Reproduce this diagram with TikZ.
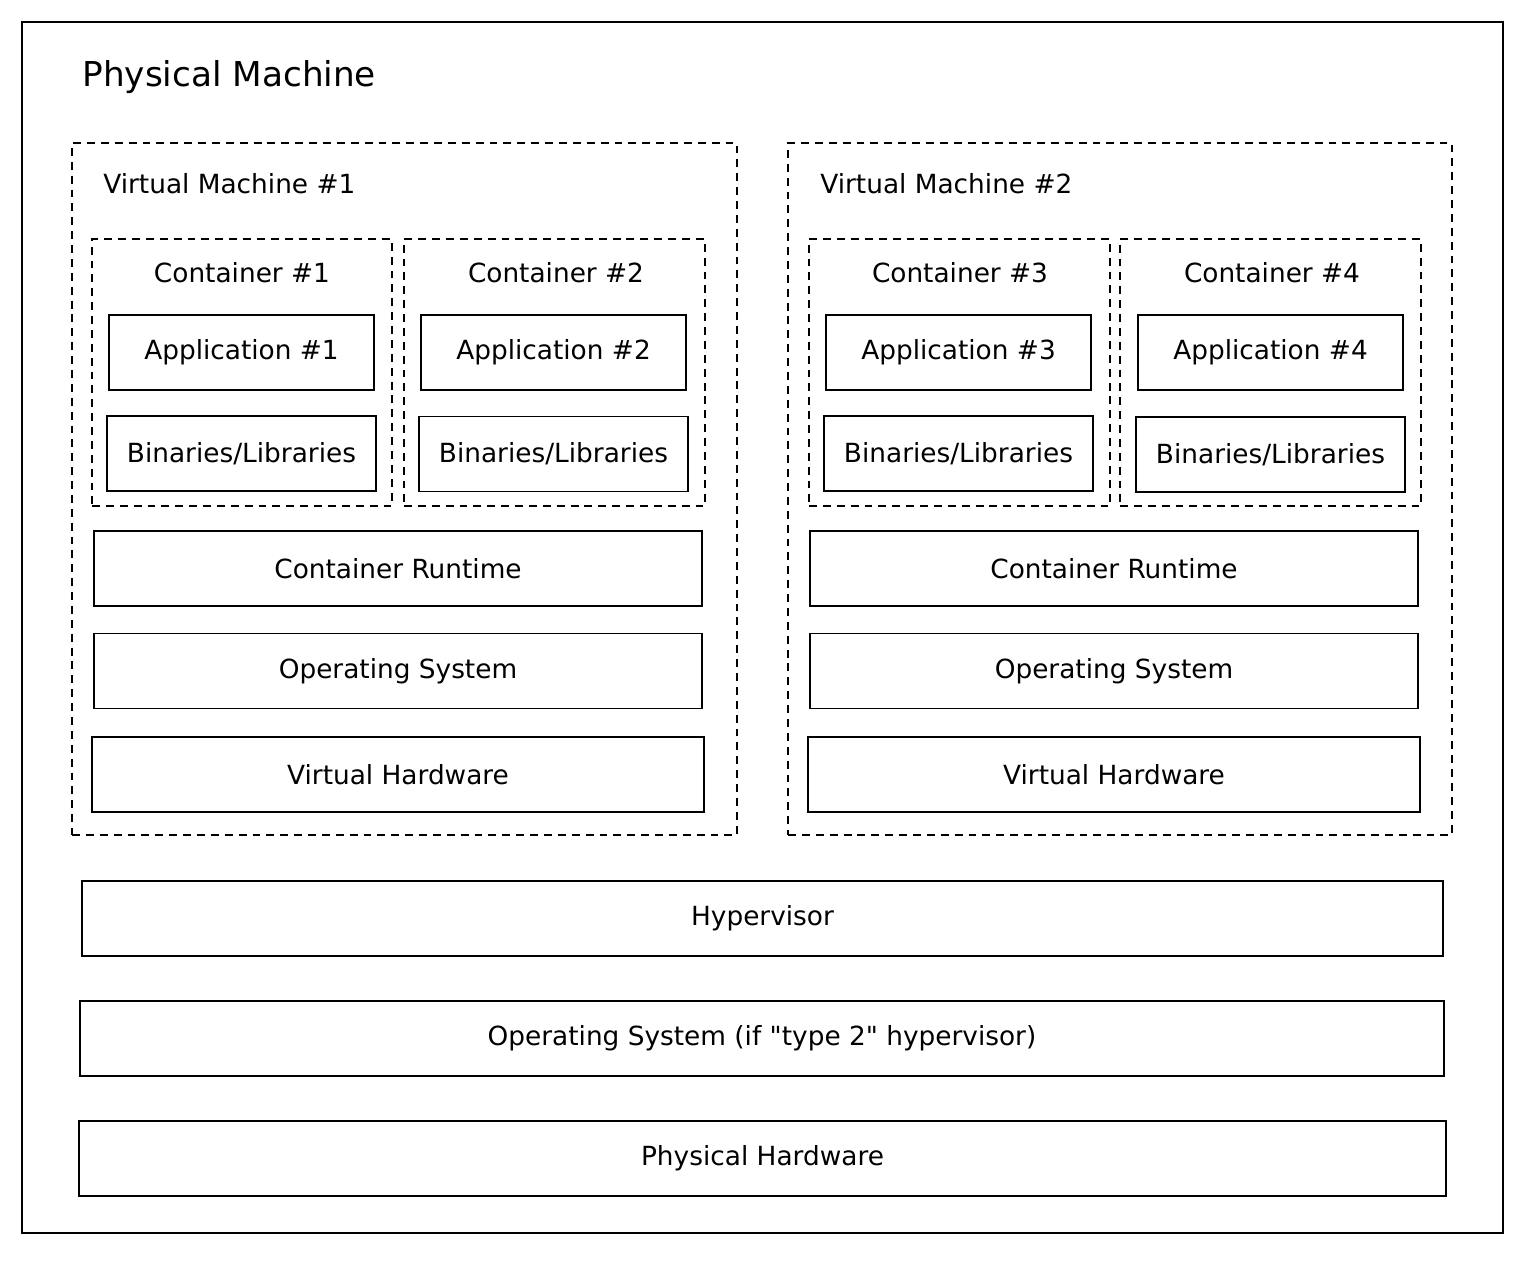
\documentclass[tikz,border=0pt]{standalone}
\usepackage{fontspec}
\setmainfont{DejaVu Sans}
\usepackage{tikz}
\usetikzlibrary{positioning}

\begin{document}
\begin{tikzpicture}[
    x=0.02cm, y=-0.02cm,
    solidbox/.style={draw, line width=1.1pt, inner sep=0pt},
    dashbox/.style={draw, line width=1.1pt, dash pattern=on 4.5pt off 3.4pt, inner sep=0pt},
    layer/.style={solidbox, minimum height=1.5cm, font=\fontsize{15}{18}\selectfont},
    lbl/.style={font=\fontsize{15}{18}\selectfont, inner sep=0pt}]
  \useasboundingbox (0,0) rectangle (1530,1266);
  % physical machine frame
  \node[solidbox, minimum width=29.62cm, minimum height=24.22cm] (pm) at (762.5,627.5) {};
  \node[font=\fontsize{19.5}{23}\selectfont, anchor=west, inner sep=0pt] (pmlbl) at (82,77) {Physical Machine};
  % virtual machines
  \node[dashbox, minimum width=13.3cm, minimum height=13.84cm] (vm1) at (404.5,489) {};
  \node[dashbox, minimum width=13.28cm, minimum height=13.84cm] (vm2) at (1120,489) {};
  \node[lbl, anchor=west] (vm1lbl) at (103,184) {Virtual Machine \#1};
  \node[lbl, anchor=west] (vm2lbl) at (820,184) {Virtual Machine \#2};
  % containers
  \node[dashbox, minimum width=6.0cm, minimum height=5.34cm] (con1) at (242,372.5) {};
  \node[dashbox, minimum width=6.02cm, minimum height=5.34cm] (con2) at (554.5,372.5) {};
  \node[dashbox, minimum width=6.02cm, minimum height=5.34cm] (con3) at (959.5,372.5) {};
  \node[dashbox, minimum width=6.02cm, minimum height=5.34cm] (con4) at (1270.5,372.5) {};
  \node[lbl] (con1lbl) at (242,273) {Container \#1};
  \node[lbl] (con2lbl) at (556,273) {Container \#2};
  \node[lbl] (con3lbl) at (960,273) {Container \#3};
  \node[lbl] (con4lbl) at (1272,273) {Container \#4};
  % applications
  \node[layer, minimum width=5.3cm] (app1) at (241.5,352.5) {Application \#1};
  \node[layer, minimum width=5.3cm] (app2) at (553.5,352.5) {Application \#2};
  \node[layer, minimum width=5.3cm] (app3) at (958.5,352.5) {Application \#3};
  \node[layer, minimum width=5.3cm] (app4) at (1270.5,352.5) {Application \#4};
  % binaries / libraries
  \node[layer, minimum width=5.38cm] (bin1) at (241.5,453.5) {Binaries/Libraries};
  \node[layer, minimum width=5.38cm] (bin2) at (553.5,454) {Binaries/Libraries};
  \node[layer, minimum width=5.38cm] (bin3) at (958.5,453.5) {Binaries/Libraries};
  \node[layer, minimum width=5.38cm] (bin4) at (1270.5,454.5) {Binaries/Libraries};
  % per-VM layers
  \node[layer, minimum width=12.16cm] (cr1) at (398,568.5) {Container Runtime};
  \node[layer, minimum width=12.16cm] (cr2) at (1114,568.5) {Container Runtime};
  \node[layer, minimum width=12.16cm] (os1) at (398,671) {Operating System};
  \node[layer, minimum width=12.16cm] (os2) at (1114,671) {Operating System};
  \node[layer, minimum width=12.24cm] (vh1) at (398,774.5) {Virtual Hardware};
  \node[layer, minimum width=12.24cm] (vh2) at (1114,774.5) {Virtual Hardware};
  % host layers
  \node[layer, minimum width=27.22cm] (hyp) at (762.5,918.5) {Hypervisor};
  \node[layer, minimum width=27.28cm] (hostos) at (762,1038.5) {Operating System (if \textquotedbl type 2\textquotedbl\ hypervisor)};
  \node[layer, minimum width=27.34cm] (phw) at (762.5,1158.5) {Physical Hardware};
\end{tikzpicture}
\end{document}
